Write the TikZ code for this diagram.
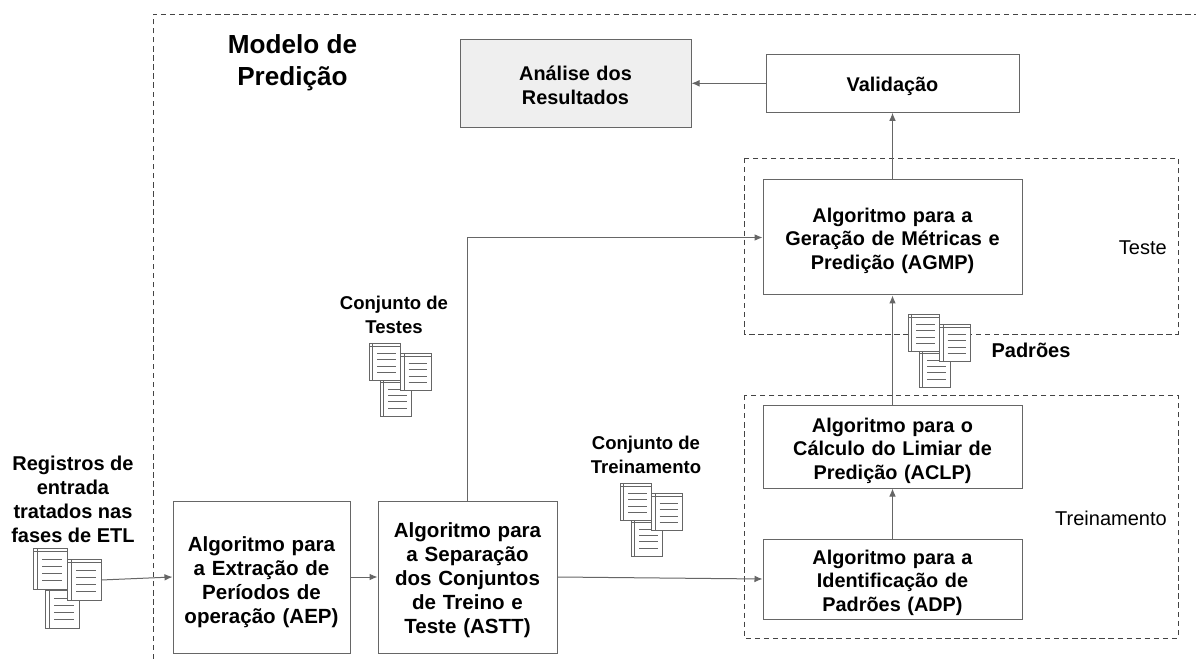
\documentclass[tikz,border=0pt]{standalone}
\usepackage{fontspec}
\setmainfont{Liberation Sans}
\usetikzlibrary{arrows.meta}
\definecolor{linegray}{HTML}{666666}
\definecolor{dashgray}{HTML}{444444}
\definecolor{softgray}{HTML}{EFEFEF}
\newcommand{\docsheet}[2]{%
  \begin{scope}[shift={(#1,#2)}]
    \path[docedge] (0,0) rectangle (34,41);
    \path[docline] (0,3.5) -- (34,3.5) (4,0) -- (4,41);
    \path[docline] (9,11) -- (29,11) (9,18) -- (29,18) (9,25) -- (29,25) (9,32) -- (29,32);
  \end{scope}}
\tikzset{
  x=0.75pt,y=-0.75pt,
  boxnode/.style={draw=linegray,line width=0.75pt,fill=white,align=center,inner sep=0pt,font=\bfseries\fontsize{14.9}{17.8}\selectfont},
  bignode/.style={boxnode,font=\bfseries\fontsize{15.4}{18}\selectfont},
  sized/.style n args={3}{text width=#1*0.75pt,minimum height=#2*0.75pt,execute at begin node={\leftskip=0pt plus 1fil\rightskip=0pt plus 1fil\parfillskip=0pt\rule{0pt}{\dimexpr 11pt+#3\relax}}},
  lbl/.style={align=center,inner sep=0pt,font=\bfseries\fontsize{15}{18}\selectfont},
  small/.style={lbl,font=\bfseries\fontsize{13.9}{17.6}\selectfont},
  plain/.style={align=center,inner sep=0pt,font=\fontsize{15}{18}\selectfont},
  conn/.style={draw=linegray,line width=0.75pt,-{Latex[length=6pt,width=5pt]}},
  dashbox/.style={draw=dashgray,line width=0.6pt,dash pattern=on 4pt off 2.8pt},
  docline/.style={draw=linegray,line width=0.6pt},
  docedge/.style={draw=linegray,line width=0.7pt,fill=white},
  pics/docs/.style={code={
    \docsheet{12}{39}
    \docsheet{0}{0}
    \docsheet{34}{11}
  }}
}
\begin{document}
\begin{tikzpicture}
\useasboundingbox (0,0) rectangle (1196,659);
\fill[white] (0,0) rectangle (1196,659);
% dashed frames
\coordinate (frameA) at (153,659);
\coordinate (frameB) at (153,14);
\coordinate (frameC) at (1196,14);
\path[dashbox] (frameA) -- (frameB) -- (frameC);
\path[dashbox] (744,158) rectangle (1178,334);
\path[dashbox] (744,395) rectangle (1178,638);
% boxes
\node[boxnode,fill=softgray,sized={231}{88}{1.5pt}] (analise) at (575.5,84) {Análise dos\\Resultados};
\node[boxnode,sized={253}{58}{4pt}] (valid) at (892.5,83.3) {Validação};
\node[boxnode,sized={259}{115}{4.5pt}] (agmp) at (892.5,237.5) {Algoritmo para a\\Geração de Métricas e\\Predição (AGMP)};
\node[boxnode,sized={259}{83}{6pt}] (aclp) at (892.5,446.5) {Algoritmo para o\\Cálculo do Limiar de\\Predição (ACLP)};
\node[boxnode,sized={259}{80}{5.5pt}] (adp) at (892.5,579) {Algoritmo para a\\Identificação de\\Padrões (ADP)};
\node[bignode,sized={177}{152}{7.5pt}] (aep) at (261.5,577) {Algoritmo para\\a Extração de\\Períodos de\\operação (AEP)};
\node[bignode,sized={179}{152}{4.5pt}] (astt) at (467.5,577) {Algoritmo para\\a Separação\\dos Conjuntos\\de Treino e\\Teste (ASTT)};
% icons
\pic at (33,548) {docs};
\pic[scale=0.92] at (369,343) {docs};
\pic[scale=0.92] at (620,483) {docs};
\pic[scale=0.92] at (908,314) {docs};
\coordinate (iconout) at (101,580);
% connectors
\draw[conn] (valid) -- (analise.east |- valid);
\draw[conn] (agmp) -- (valid);
\draw[conn] (aclp) -- (agmp);
\draw[conn] (adp) -- (aclp);
\draw[conn] (astt.north) |- (agmp.west);
\draw[conn] (astt.east) -- (adp.west);
\draw[conn] (aep) -- (astt);
\draw[conn] (iconout) -- (aep.west);
% labels
\node[lbl,font=\bfseries\fontsize{19.6}{24}\selectfont] (title) at (292.5,62.5) {Modelo de\\Predição};
\node[lbl] (reg) at (73,499) {Registros de\\entrada\\tratados nas\\fases de ETL};
\node[small] (ctes) at (394,315) {Conjunto de\\Testes};
\node[small] (ctre) at (646,455) {Conjunto de\\Treinamento};
\node[lbl] (pad) at (1031,350) {Padrões};
\node[plain,anchor=east] (tes) at (1167,248) {Teste};
\node[plain,anchor=east] (tre) at (1167,518) {Treinamento};
\end{tikzpicture}
\end{document}
